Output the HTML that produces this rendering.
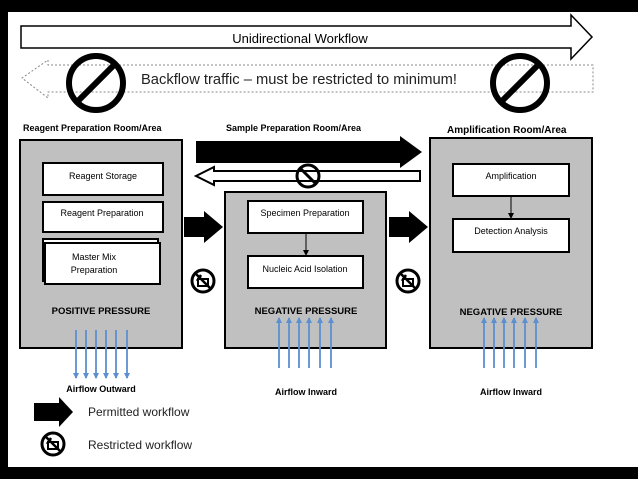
<!DOCTYPE html>
<html><head><style>
body{margin:0;background:#000;}
svg{display:block}
text{font-family:"Liberation Sans",sans-serif;}
</style></head><body>
<svg width="638" height="479" viewBox="0 0 638 479" xmlns="http://www.w3.org/2000/svg">
<defs>
<marker id="bd" markerWidth="6" markerHeight="6" refX="5" refY="3" orient="auto" markerUnits="userSpaceOnUse"><path d="M0,0 L6,3 L0,6 Z" fill="#5b8fd0"/></marker>
<marker id="ka" markerWidth="6" markerHeight="6" refX="5" refY="3" orient="auto" markerUnits="userSpaceOnUse"><path d="M0,0 L6,3 L0,6 Z" fill="#000"/></marker>
<g id="rs"><circle r="11" fill="#fff" stroke="#000" stroke-width="3"/><path d="M-5,-2 L5,-2 L5,5 L-5,5 Z" fill="none" stroke="#000" stroke-width="2"/><path d="M-2,-6 L-6,0 M-7,-7 L7,7" stroke="#000" stroke-width="2.5"/></g>
<g id="no"><circle r="27" fill="none" stroke="#000" stroke-width="6"/><line x1="-19" y1="19" x2="19" y2="-19" stroke="#000" stroke-width="6"/></g>
</defs>
<rect x="0" y="0" width="638" height="479" fill="#000"/>
<rect x="8" y="12" width="630" height="455" fill="#fff"/>
<!-- Top arrow -->
<path d="M21,26 L571,26 L571,15 L592,37 L571,59 L571,48 L21,48 Z" fill="#fff" stroke="#000" stroke-width="1.5"/>
<text x="300" y="43" font-size="13" text-anchor="middle">Unidirectional Workflow</text>
<!-- dashed back arrow -->
<path d="M593,65 L48,65 L48,60 L22,78 L48,98 L48,92 L593,92 Z" fill="#fff" stroke="#888" stroke-width="1" stroke-dasharray="2,2"/>
<text x="141" y="84" font-size="14.5" fill="#222" textLength="316" lengthAdjust="spacingAndGlyphs">Backflow traffic – must be restricted to minimum!</text>
<use href="#no" x="96" y="83"/>
<use href="#no" x="520" y="83"/>
<!-- labels -->
<text x="23" y="131" font-size="9" font-weight="bold">Reagent Preparation Room/Area</text>
<text x="226" y="131" font-size="9" font-weight="bold">Sample Preparation Room/Area</text>
<text x="447" y="133" font-size="10" font-weight="bold">Amplification Room/Area</text>
<!-- left room -->
<rect x="20" y="140" width="162" height="208" fill="#c0c0c0" stroke="#000" stroke-width="2"/>
<rect x="43" y="163" width="120" height="32" fill="#fff" stroke="#000" stroke-width="2"/>
<text x="103" y="179" font-size="9" text-anchor="middle">Reagent Storage</text>
<rect x="43" y="202" width="120" height="30" fill="#fff" stroke="#000" stroke-width="2"/>
<text x="102" y="216" font-size="9" text-anchor="middle">Reagent Preparation</text>
<rect x="43" y="239" width="115" height="42" fill="#fff" stroke="#000" stroke-width="2"/>
<rect x="45" y="243" width="115" height="41" fill="#fff" stroke="#000" stroke-width="2"/>
<text x="94" y="260" font-size="9" text-anchor="middle">Master Mix</text>
<text x="94" y="273" font-size="9" text-anchor="middle">Preparation</text>
<text x="101" y="314" font-size="9.5" font-weight="bold" text-anchor="middle">POSITIVE PRESSURE</text>
<!-- middle room -->
<rect x="225" y="192" width="161" height="156" fill="#c0c0c0" stroke="#000" stroke-width="2"/>
<rect x="248" y="201" width="115" height="32" fill="#fff" stroke="#000" stroke-width="2"/>
<text x="305" y="216" font-size="9" text-anchor="middle">Specimen Preparation</text>
<line x1="306" y1="233" x2="306" y2="255" stroke="#000" stroke-width="1" marker-end="url(#ka)"/>
<rect x="248" y="256" width="115" height="32" fill="#fff" stroke="#000" stroke-width="2"/>
<text x="305" y="272" font-size="9" text-anchor="middle">Nucleic Acid Isolation</text>
<text x="306" y="314" font-size="9.5" font-weight="bold" text-anchor="middle">NEGATIVE PRESSURE</text>
<!-- right room -->
<rect x="430" y="138" width="162" height="210" fill="#c0c0c0" stroke="#000" stroke-width="2"/>
<rect x="453" y="164" width="116" height="32" fill="#fff" stroke="#000" stroke-width="2"/>
<text x="511" y="179" font-size="9" text-anchor="middle">Amplification</text>
<line x1="511" y1="196" x2="511" y2="218" stroke="#000" stroke-width="1" marker-end="url(#ka)"/>
<rect x="453" y="219" width="116" height="33" fill="#fff" stroke="#000" stroke-width="2"/>
<text x="511" y="234" font-size="9" text-anchor="middle">Detection Analysis</text>
<text x="511" y="315" font-size="9.5" font-weight="bold" text-anchor="middle">NEGATIVE PRESSURE</text>
<!-- big arrows -->
<path d="M196,141 L400,141 L400,136 L422,152 L400,168 L400,163 L196,163 Z" fill="#000"/>
<path d="M420,171 L214,171 L214,167 L196,176 L214,185 L214,181 L420,181 Z" fill="#fff" stroke="#000" stroke-width="2"/>
<g transform="translate(308,176)"><circle r="11" fill="none" stroke="#000" stroke-width="3"/><line x1="-7" y1="-7" x2="7" y2="7" stroke="#000" stroke-width="3"/></g>
<path d="M184,217 L204,217 L204,211 L223,227 L204,243 L204,237 L184,237 Z" fill="#000"/>
<path d="M389,217 L409,217 L409,211 L428,227 L409,243 L409,237 L389,237 Z" fill="#000"/>
<use href="#rs" x="203" y="281"/>
<use href="#rs" x="408" y="281"/>
<!-- airflow -->
<g stroke="#5b8fd0" stroke-width="1.8">
<line x1="76" y1="330" x2="76" y2="378" marker-end="url(#bd)"/>
<line x1="86" y1="330" x2="86" y2="378" marker-end="url(#bd)"/>
<line x1="96" y1="330" x2="96" y2="378" marker-end="url(#bd)"/>
<line x1="106" y1="330" x2="106" y2="378" marker-end="url(#bd)"/>
<line x1="116" y1="330" x2="116" y2="378" marker-end="url(#bd)"/>
<line x1="127" y1="330" x2="127" y2="378" marker-end="url(#bd)"/>
<line x1="279" y1="368" x2="279" y2="318" marker-end="url(#bd)"/>
<line x1="289" y1="368" x2="289" y2="318" marker-end="url(#bd)"/>
<line x1="299" y1="368" x2="299" y2="318" marker-end="url(#bd)"/>
<line x1="309" y1="368" x2="309" y2="318" marker-end="url(#bd)"/>
<line x1="320" y1="368" x2="320" y2="318" marker-end="url(#bd)"/>
<line x1="331" y1="368" x2="331" y2="318" marker-end="url(#bd)"/>
<line x1="484" y1="368" x2="484" y2="318" marker-end="url(#bd)"/>
<line x1="494" y1="368" x2="494" y2="318" marker-end="url(#bd)"/>
<line x1="504" y1="368" x2="504" y2="318" marker-end="url(#bd)"/>
<line x1="514" y1="368" x2="514" y2="318" marker-end="url(#bd)"/>
<line x1="525" y1="368" x2="525" y2="318" marker-end="url(#bd)"/>
<line x1="536" y1="368" x2="536" y2="318" marker-end="url(#bd)"/>
</g>
<text x="101" y="392" font-size="9" font-weight="bold" text-anchor="middle">Airflow Outward</text>
<text x="306" y="395" font-size="9" font-weight="bold" text-anchor="middle">Airflow Inward</text>
<text x="511" y="395" font-size="9" font-weight="bold" text-anchor="middle">Airflow Inward</text>
<!-- legend -->
<path d="M34,403 L59,403 L59,397 L73,412 L59,427 L59,421 L34,421 Z" fill="#000"/>
<text x="88" y="416" font-size="12" fill="#222">Permitted workflow</text>
<use href="#rs" x="53" y="444"/>
<text x="88" y="449" font-size="12" fill="#222">Restricted workflow</text>
</svg>
</body></html>
